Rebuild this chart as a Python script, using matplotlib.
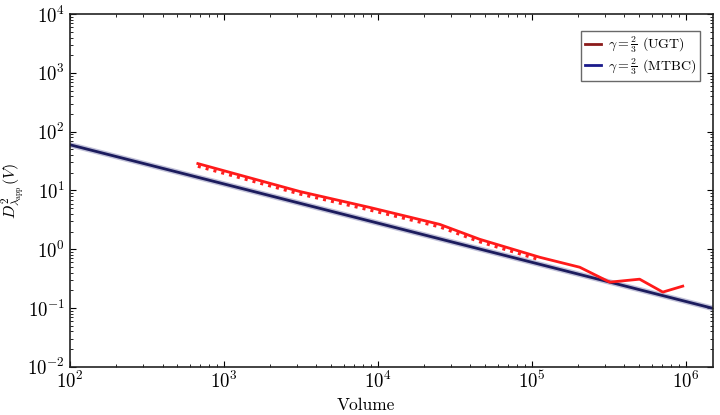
import matplotlib
matplotlib.use("Agg")
import matplotlib.pyplot as plt
from matplotlib.lines import Line2D

plt.rcParams['font.family'] = 'serif'
plt.rcParams['font.serif'] = ['cmr10', 'DejaVu Serif']
plt.rcParams['mathtext.fontset'] = 'cm'
plt.rcParams['axes.formatter.use_mathtext'] = True

# UGT measurement (red curve)
ugt_v = [678, 3120, 8870, 25300, 45900, 113000, 205000, 321000, 502000, 710000, 957000]
ugt_d = [28.7, 9.6, 5.15, 2.65, 1.48, 0.73, 0.495, 0.276, 0.31, 0.187, 0.236]

# dotted companion points just below the red curve
dots_v = [678, 3120, 8870, 25300, 45900, 113000]
dots_d = [25.8, 8.7, 4.65, 2.4, 1.34, 0.66]

# MTBC power law, gamma = 2/3 (end points of the straight line)
mtbc_v = [1e2, 1.5e6]
mtbc_d = [60.0, 0.099]

fig = plt.figure(figsize=(7.2, 4.15), dpi=100)
ax = fig.add_axes([0.097, 0.116, 0.893, 0.85])

ax.plot(mtbc_v, mtbc_d, color='#9a9ac0', lw=4, alpha=0.6, solid_capstyle='butt')
ax.plot(mtbc_v, mtbc_d, color='#1c1c5e', lw=2, solid_capstyle='butt')
ax.plot(dots_v, dots_d, color='#ff2020', lw=2.2, ls=':')
ax.plot(ugt_v, ugt_d, color='#ff1a1a', lw=2)

ax.set_xscale('log')
ax.set_yscale('log')
ax.set_xlim(1e2, 1.5e6)
ax.set_ylim(1e-2, 1e4)

ax.tick_params(which='both', direction='in', top=True, right=True, labelsize=13.5)
ax.tick_params(which='major', length=4)
ax.tick_params(which='minor', length=2)
ax.tick_params(axis='x', pad=3)
for s in ax.spines.values():
    s.set_color('#222222')
    s.set_linewidth(1.2)

ax.set_xlabel('Volume', fontsize=12.5)
ax.xaxis.set_label_coords(0.46, -0.088)
ax.set_ylabel(r'$D^2_{\lambda_{\rm app}}(V)$', fontsize=11.5)
ax.yaxis.set_label_coords(-0.068, 0.5)

handles = [Line2D([0], [0], color='#8b1a1a', lw=2),
           Line2D([0], [0], color='#1a1a8b', lw=2)]
leg = ax.legend(handles, [r'$\gamma=\frac{2}{3}$ (UGT)', r'$\gamma=\frac{2}{3}$ (MTBC)'],
                loc='upper right', bbox_to_anchor=(0.984, 0.96), fontsize=10,
                handlelength=1.2, handletextpad=0.5, fancybox=False,
                borderpad=0.25, labelspacing=0.05, borderaxespad=0.2)
leg.get_frame().set_edgecolor('#444444')
leg.get_frame().set_linewidth(1.0)

fig.savefig('out.png', dpi=100)
